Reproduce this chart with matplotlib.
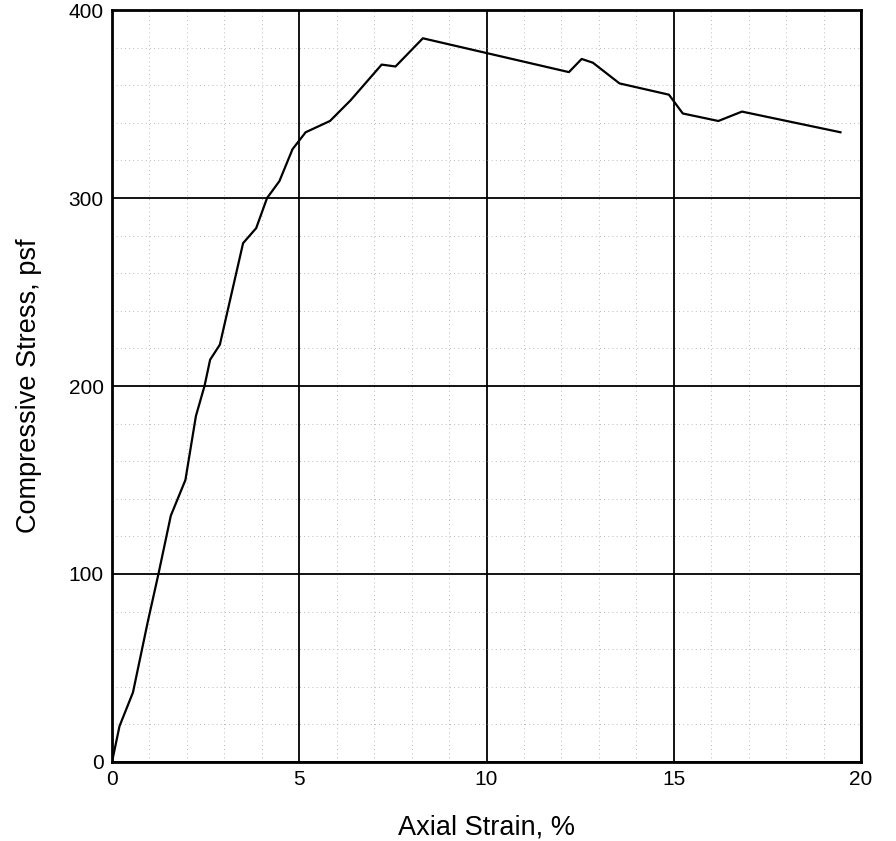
import matplotlib
matplotlib.use("Agg")
import matplotlib.pyplot as plt
from matplotlib.ticker import MultipleLocator

# values
strain = [0, 0.2, 0.56, 0.96, 1.24, 1.57, 1.96, 2.24, 2.47, 2.62, 2.88, 3.5, 3.85,
          4.14, 4.47, 4.82, 5.17, 5.82, 6.37, 7.2, 7.57, 8.3, 12.2, 12.54, 12.84,
          13.55, 14.87, 15.24, 16.19, 16.82, 19.45]
stress = [0, 19, 37, 75, 100, 131, 150, 184, 200, 214, 222, 276, 284,
          300, 309, 326, 335, 341, 352, 371, 370, 385, 367, 374, 372,
          361, 355, 345, 341, 346, 335]

x_ticks = [0, 5, 10, 15, 20]
y_ticks = [0, 100, 200, 300, 400]

plt.rcParams['font.family'] = ['Liberation Sans', 'DejaVu Sans']

fig = plt.figure(figsize = (8.96, 8.41), dpi = 100)
ax = fig.add_axes([0.125, 0.094, 0.836, 0.894])

ax.plot(strain, stress, color = 'black', lw = 1.6, zorder = 3)

ax.set_xlim(0, 20)
ax.set_ylim(0, 400)
ax.set_xticks(x_ticks)
ax.set_yticks(y_ticks)
ax.xaxis.set_minor_locator(MultipleLocator(1))
ax.yaxis.set_minor_locator(MultipleLocator(20))

# faint minor grid, solid major grid
ax.grid(which = 'minor', color = '0.65', lw = 0.6, linestyle = (0, (1, 4)))
ax.grid(which = 'major', color = 'black', lw = 1.3)
ax.set_axisbelow(True)

for s in ax.spines.values():
    s.set_linewidth(2)

ax.tick_params(which = 'both', length = 0, labelsize = 15, pad = 6)
ax.set_xlabel('Axial Strain, %', fontsize = 19.5, labelpad = 18)
ax.set_ylabel('Compressive Stress, psf', fontsize = 19.5, labelpad = 19)

fig.savefig('out.png', dpi = 100)
